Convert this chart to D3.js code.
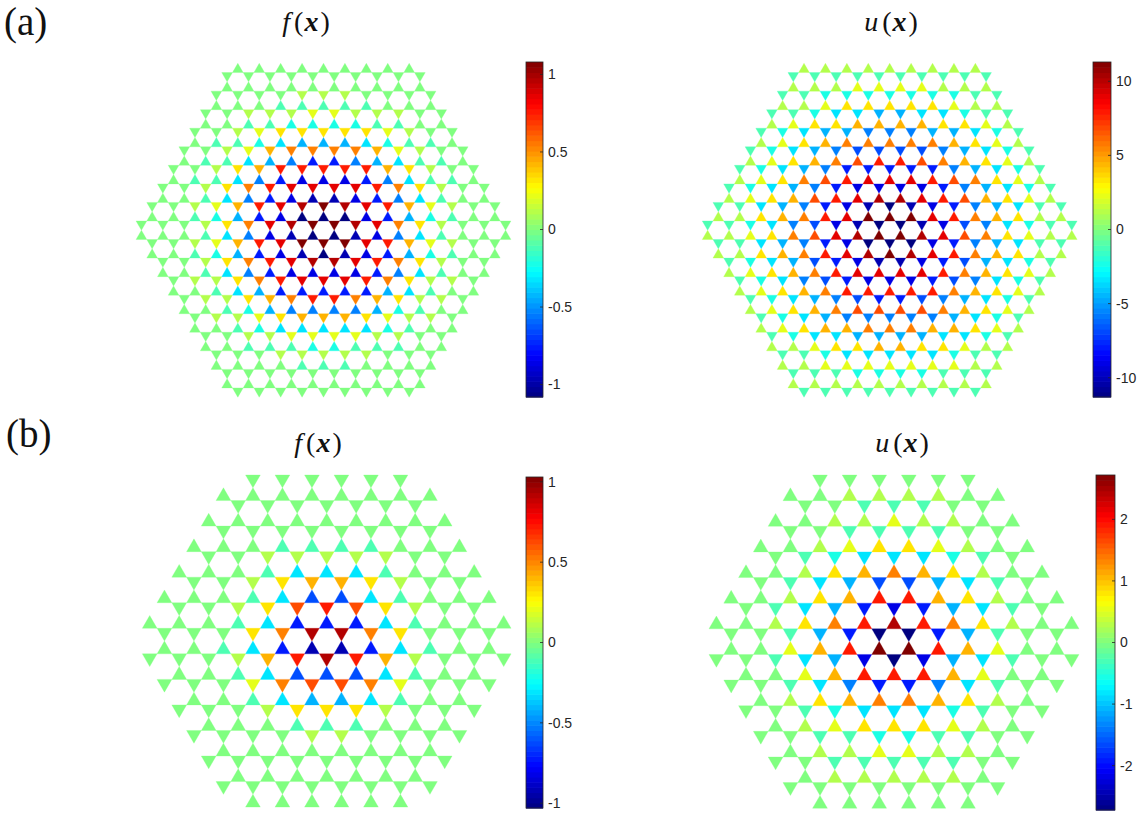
<!DOCTYPE html>
<html><head><meta charset="utf-8">
<script src="https://cdn.jsdelivr.net/npm/d3@7/dist/d3.min.js"></script>
<style>body{margin:0;background:#fff}svg{display:block}</style>
</head><body>
<svg id="chart" width="1145" height="815"></svg>
<script>
// Value codes: 'a' = -1.0, 'k' = 0, 'u' = +1.0 (fraction of the colour limit), step 0.1
// One string per horizontal row of triangles (top to bottom), triangles left to right.
const fA = [
"kkkkkkkkk","kkkkkkkkkk","kkkkkkkkkk","kkkklllkkkk","kkkjjjjjkkk","kklllmmlllkk",
"kkjjiiiijjkk","kklmnnnnnmlkk","kjjihggghijjk","kklmoppppomlkk","kjjhgfddfghjjk","kklnorrrrronlkk",
"kjjhfdcccdfhjjk","kklnprssssrpnlkk","kkjhfdcbbcdfhjkk","kklmorstutsromlkk","kkjigdcaaacdgijkk","kkklnpstuutspnlkkk",
"kkkjhfcbaabcfhjkkk","kklmorsuuusromlkk","kkjigdcbabcdgijkk","kklnprsttsrpnlkk","kkjhfdccccdfhjkk","kllnprsssrpnllk",
"kkjhgdddddghjkk","kllnoprrponllk","kkjigffffgijkk","kllmnooonmllk","kkjihhhhhijkk","kkllmmmmllkk",
"kkjjjiijjjkk","kkklllllkkk","kkkkjjjkkkk","kkkkkkkkkk","kkkkkkkkkk","kkkkkkkkk"];
const uA = [
"lllllllll","jjjjjjjjjj","lllmmmmlll","jjiiiiiiijj","llmnnnnnmll","jjihhgghhijj",
"lmnnoooonnml","jihggfffgghij","lmnoppppponml","jihgfeeeefghij","lmnopqrrqponml","jihgfdddddfghij",
"lmnpqrsssrqpnml","jihgfdccccdfghij","lmnoqrsttsrqonml","jjhgfdcbabcdfghjj","llnoprsuuusrponll","jjihfecbaabcefhijj",
"llmnpqstuutsqpnmll","jjhgfdcaaacdfghjj","llnoprstutsrponll","jihgedcbbcdeghij","lmnoprssssrponml","jihfedcccdefhij",
"lmnoprrrrrponml","jihgfeddefghij","lmnopqqqqponml","jihgfffffghij","lmnoopppoonml","jihhgggghhij",
"llmnnoonnmll","jjihhhhhijj","llmmmmmmmll","jjjiiiijjj","llllllllll","jjjjjjjjj"];
const fB = [
"kkkkkk","kkkkkkkk","kkkkkkk","kkkkkkkkk","kkkkkkkk","kkkjjjjkkk","kklllllkk",
"kkkjhhhjkkk","kklnoonlkk","kkkjheehjkkk","kklnqrqnlkk","kkkjhdddhjkkk","kkknpttpnkkk",
"kkjhdbbdhjkk","kkklortrolkkk","kkjheeehjkk","kkkmpqqpmkkk","kkjhgghjkk","kkklnnnlkkk",
"kkkjjjkkk","kkkkllkkkk","kkkkkkkk","kkkkkkkkk","kkkkkkk","kkkkkkkk","kkkkkk"];
const uB = [
"kkkkkk","kkllllkk","kkjjjkk","kkllmllkk","kkjjjjkk","kklmnnmlkk","kjihhhijk",
"kklnoponlkk","kjhgeeghjk","kklnorronlkk","kjhgdcdghjk","kklnprtrpnlkk","kkjgdaadgjkk",
"kkmoruuromkk","kkjhgcacghjkk","kkmorrromkk","kkjhfddfhjkk","klnopponlk","kkjihhhijkk",
"klmnnnmlk","kkjjiijjkk","kllmmllk","kkjjjjjkk","klllllk","kkkkkkkk","kkkkkk"];

// colour limits (colorbar ranges) and ticks
const limFA = 1.08, limUA = 11.3, limFB = 1.03, limUB = 2.72;
const ticksF = [1, 0.5, 0, -0.5, -1];
const ticksUA = [10, 5, 0, -5, -10];
const ticksUB = [2, 1, 0, -1, -2];
const tickLabelsF = ["1", "0.5", "0", "-0.5", "-1"];
const tickLabelsUA = ["10", "5", "0", "-5", "-10"];
const tickLabelsUB = ["2", "1", "0", "-1", "-2"];
const titleFun = ["f", "u", "f", "u"];
const rowLabels = ["(a)", "(b)"];

const codeFrac = c => (c.charCodeAt(0) - 107) / 10;

function jet(t) {
  t = Math.max(0, Math.min(1, t));
  const cl = v => Math.max(0, Math.min(1, v));
  const r = cl(1.5 - Math.abs(4 * t - 3)), g = cl(1.5 - Math.abs(4 * t - 2)), b = cl(1.5 - Math.abs(4 * t - 1));
  return d3.rgb(r * 255, g * 255, b * 255).toString();
}

const panels = [
  {rows: fA, lim: limFA, first: "U", cx: 323.5, top: 63.3, s: 10.71, cb: [526, 543, 62, 397], ticks: ticksF, tl: tickLabelsF, title: titleFun[0], tx: 306, ty: 31},
  {rows: uA, lim: limUA, first: "U", cx: 889.7, top: 63.3, s: 10.71, cb: [1093, 1111, 62, 397], ticks: ticksUA, tl: tickLabelsUA, title: titleFun[1], tx: 891, ty: 31},
  {rows: fB, lim: limFB, first: "D", cx: 326.7, top: 475, s: 14.75, cb: [526, 543, 477, 808], ticks: ticksF, tl: tickLabelsF, title: titleFun[2], tx: 318, ty: 452},
  {rows: uB, lim: limUB, first: "D", cx: 894, top: 475, s: 14.8, cb: [1096, 1115, 475, 810], ticks: ticksUB, tl: tickLabelsUB, title: titleFun[3], tx: 902, ty: 452}
];

const svg = d3.select("#chart");

panels.forEach((p, pi) => {
  const h = p.s * Math.sqrt(3) / 2;
  const xs = d3.scaleLinear().domain([0, 1]).range([p.cx, p.cx + p.s]);   // lattice units -> px
  const ys = d3.scaleLinear().domain([0, 1]).range([p.top, p.top + h]);   // row index -> px
  const color = d3.scaleSequential(jet).domain([-p.lim, p.lim]);
  const cells = [];
  p.rows.forEach((row, j) => {
    const up = (j % 2 === 0) === (p.first === "U");
    const n = row.length;
    for (let i = 0; i < n; i++) {
      const u = (i - (n - 1) / 2) * 2;
      cells.push({u, j, up, v: codeFrac(row[i]) * p.lim});
    }
  });
  const g = svg.append("g");
  g.selectAll("path").data(cells).join("path")
    .attr("d", c => {
      const x0 = xs(c.u - 0.5), x1 = xs(c.u + 0.5), xm = xs(c.u);
      const yt = ys(c.j), yb = ys(c.j + 1);
      return c.up ? `M${x0},${yb}L${x1},${yb}L${xm},${yt}Z` : `M${x0},${yt}L${x1},${yt}L${xm},${yb}Z`;
    })
    .attr("fill", c => color(c.v))
    .attr("stroke", c => color(c.v)).attr("stroke-width", 0.3);

  // colorbar
  const [bx0, bx1, by0, by1] = p.cb;
  const cy = d3.scaleLinear().domain([-p.lim, p.lim]).range([by1, by0]);
  const N = 64;
  const bands = d3.range(N);
  const bs = d3.scaleLinear().domain([0, N]).range([by1, by0]);
  const cbg = svg.append("g");
  cbg.selectAll("rect").data(bands).join("rect")
    .attr("x", bx0).attr("width", bx1 - bx0)
    .attr("y", k => bs(k + 1)).attr("height", k => bs(k) - bs(k + 1) + 0.6)
    .attr("fill", k => jet((k + 0.5) / N));
  cbg.append("rect").attr("x", bx0).attr("y", by0).attr("width", bx1 - bx0).attr("height", by1 - by0)
    .attr("fill", "none").attr("stroke", "#262626").attr("stroke-width", 0.8);
  p.ticks.forEach((t, k) => {
    cbg.append("line").attr("x1", bx1 - 3).attr("x2", bx1).attr("y1", cy(t)).attr("y2", cy(t))
      .attr("stroke", "#262626").attr("stroke-width", 0.8);
    cbg.append("text").attr("x", bx1 + 5).attr("y", cy(t)).attr("dy", "0.35em")
      .attr("font-family", "Liberation Sans, Arial, sans-serif").attr("font-size", 14)
      .attr("fill", "#262626").text(p.tl[k]);
  });

  // title
  const tt = svg.append("text").attr("x", p.tx).attr("y", p.ty).attr("text-anchor", "middle")
    .attr("font-family", "Liberation Serif, 'Times New Roman', serif").attr("font-size", 28).attr("fill", "#111");
  tt.append("tspan").attr("font-style", "italic").text(p.title);
  tt.append("tspan").attr("dx", 4).text("(");
  tt.append("tspan").attr("dx", 1).attr("font-style", "italic").attr("font-weight", "bold").text("x");
  tt.append("tspan").attr("dx", 2).text(")");
});

svg.append("text").attr("x", 4).attr("y", 35).attr("font-family", "Liberation Serif, serif").attr("font-size", 39).attr("fill", "#111").text(rowLabels[0]);
svg.append("text").attr("x", 6).attr("y", 447).attr("font-family", "Liberation Serif, serif").attr("font-size", 39).attr("fill", "#111").text(rowLabels[1]);
</script>
</body></html>
